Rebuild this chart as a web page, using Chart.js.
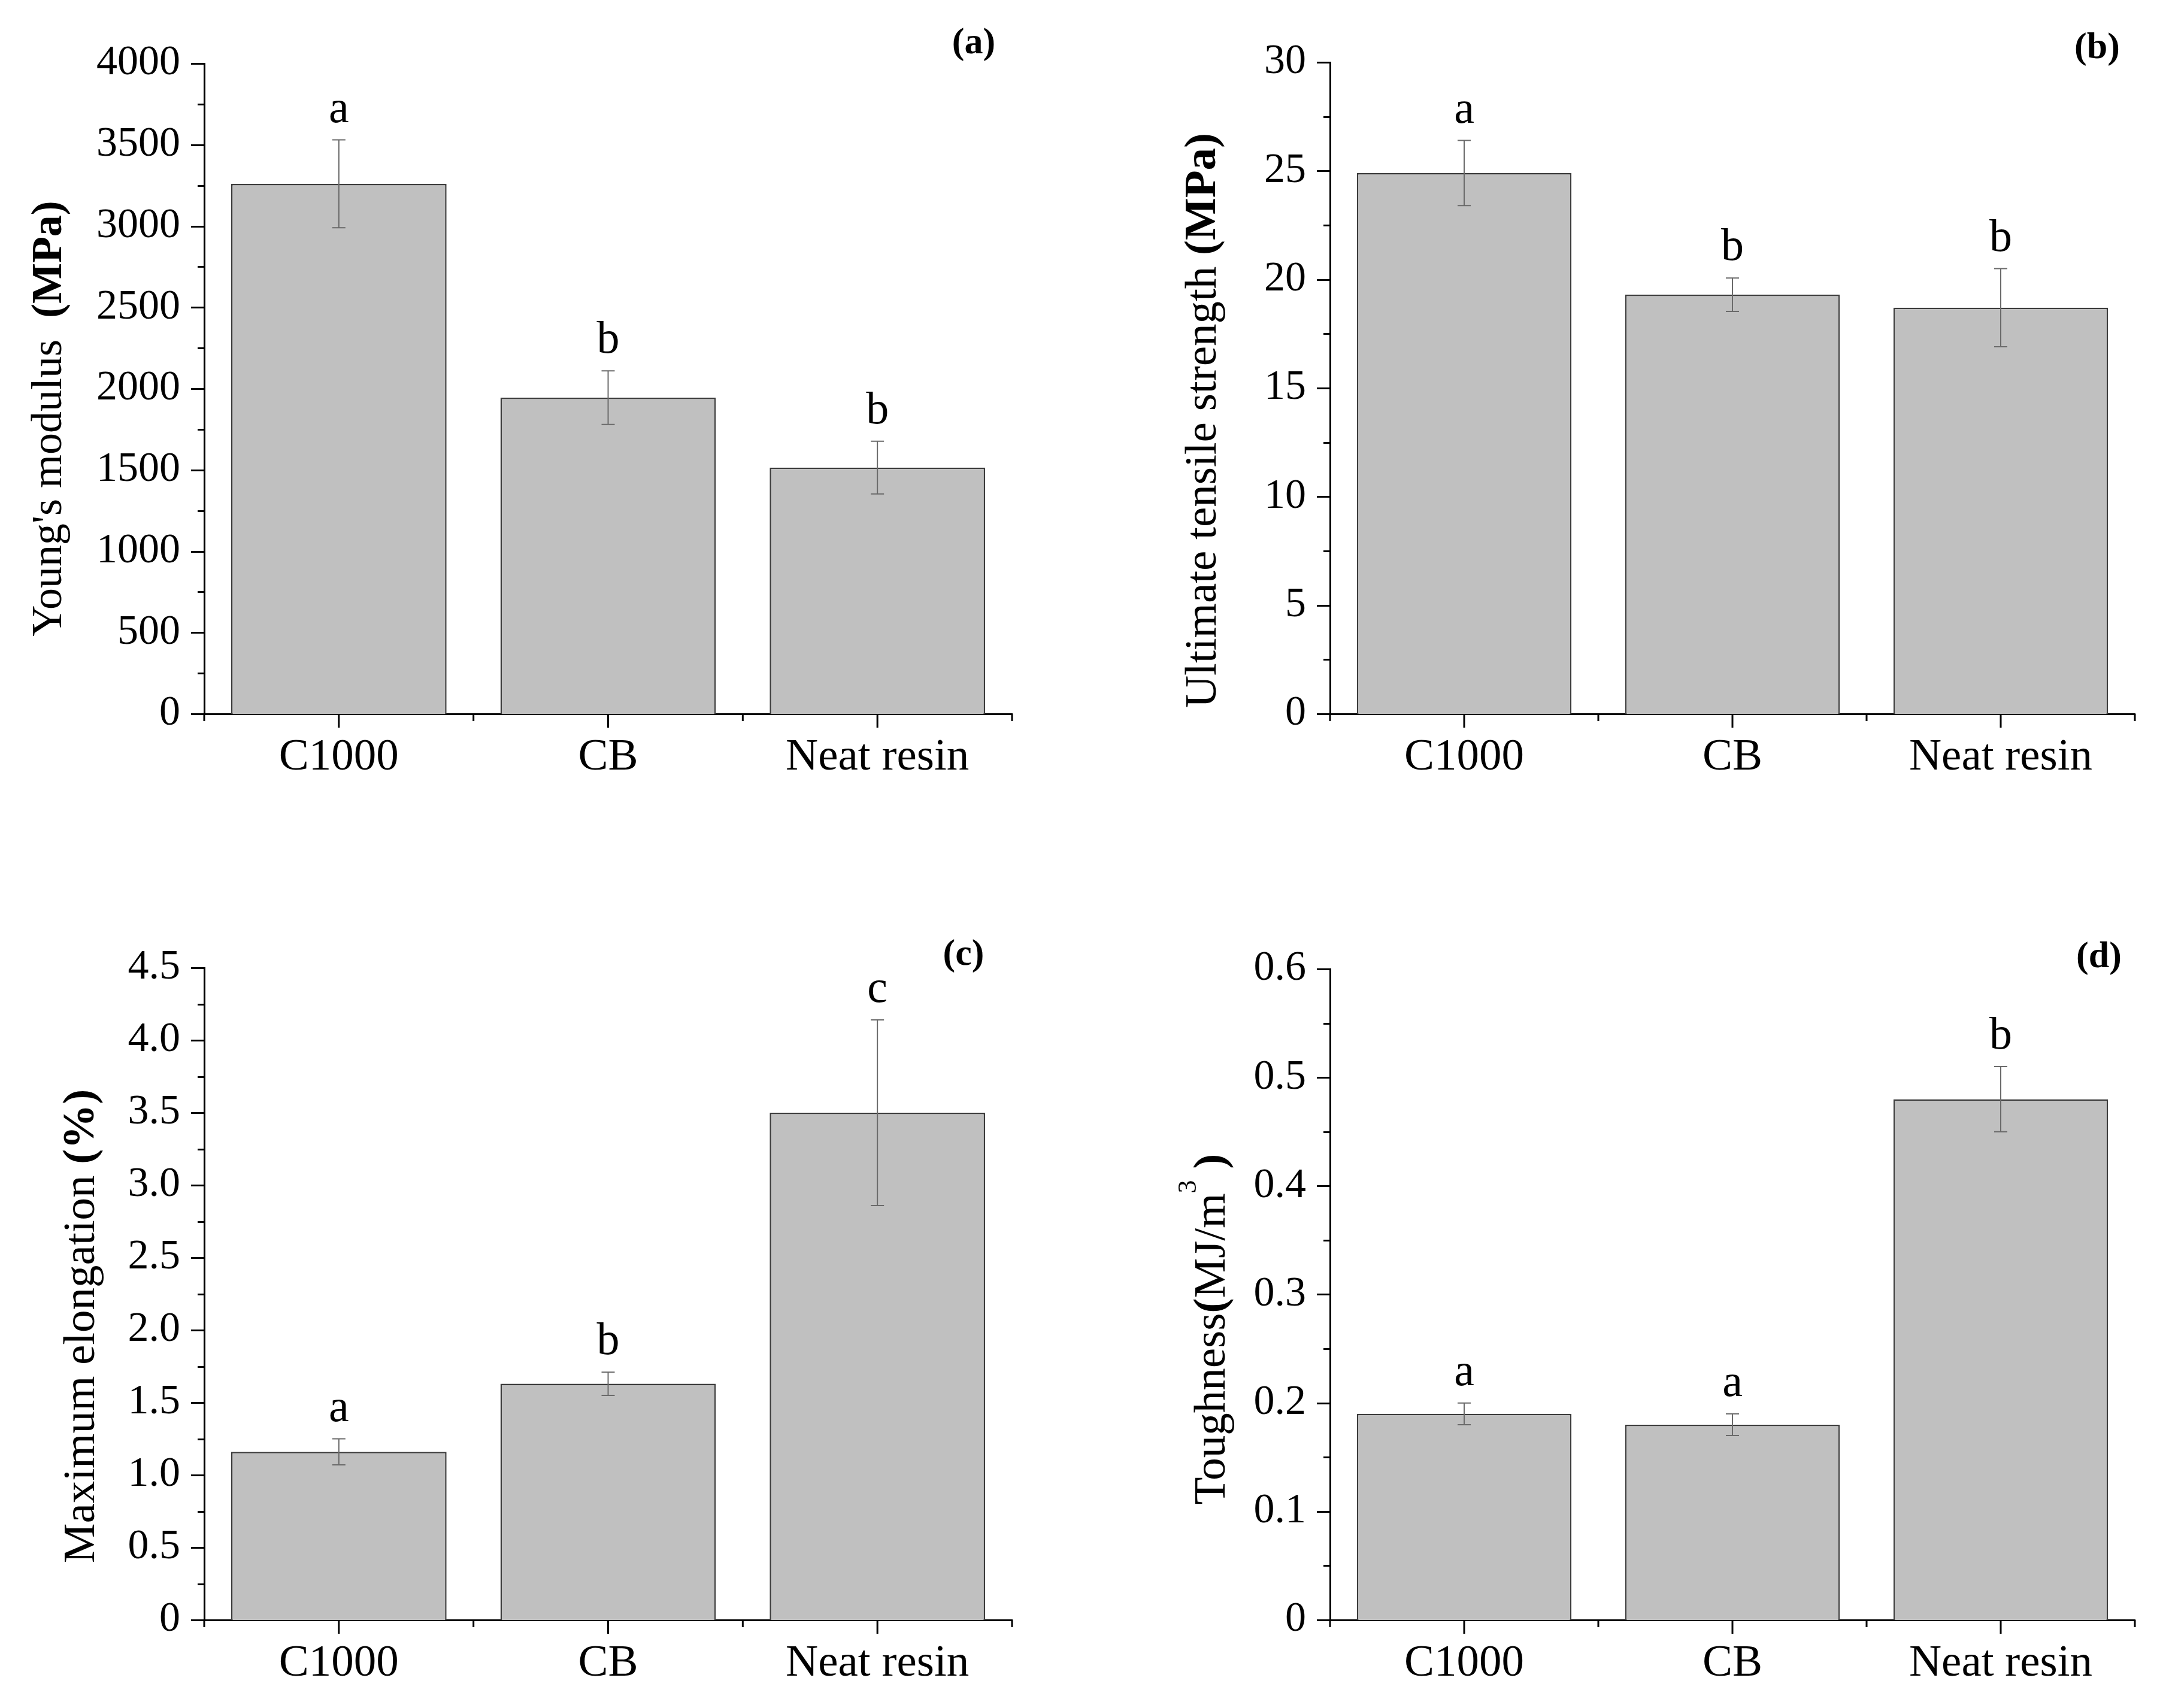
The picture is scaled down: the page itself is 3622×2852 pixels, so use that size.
<!DOCTYPE html>
<html>
<head>
<meta charset="utf-8">
<title>Mechanical properties</title>
<script src="https://cdn.jsdelivr.net/npm/chart.js@4.4.0/dist/chart.umd.min.js"></script>
<style>
  html, body { margin: 0; padding: 0; background: #fff; }
  #wrap { position: relative; width: 3622px; height: 2852px; overflow: hidden; background: #fff; }
  canvas { position: absolute; }
</style>
</head>
<body>
<div id="wrap">
  <canvas id="chartA" width="1811" height="1426" style="left:0px;top:0px;width:1811px;height:1426px"></canvas>
  <canvas id="chartB" width="1811" height="1426" style="left:1811px;top:0px;width:1811px;height:1426px"></canvas>
  <canvas id="chartC" width="1811" height="1426" style="left:0px;top:1426px;width:1811px;height:1426px"></canvas>
  <canvas id="chartD" width="1811" height="1426" style="left:1811px;top:1426px;width:1811px;height:1426px"></canvas>
</div>
<script>
// data
const categories = ['C1000', 'CB', 'Neat resin'];

const modulusMean = [3260, 1945, 1515];
const modulusErr = [270, 165, 162];
const modulusLetters = ['a', 'b', 'b'];

const strengthMean = [24.9, 19.3, 18.7];
const strengthErr = [1.5, 0.77, 1.8];
const strengthLetters = ['a', 'b', 'b'];

const elongationMean = [1.16, 1.63, 3.50];
const elongationErr = [0.09, 0.08, 0.64];
const elongationLetters = ['a', 'b', 'c'];

const toughnessMean = [0.19, 0.18, 0.48];
const toughnessErr = [0.01, 0.01, 0.03];
const toughnessLetters = ['a', 'a', 'b'];

const FONT = "'Liberation Serif', 'Times New Roman', serif";
const W = 1811, H = 1426;

const panels = [
    {
        id: 'chartA', label: '(a)', mean: modulusMean, err: modulusErr, letters: modulusLetters,
        max: 4000, step: 500, minor: 250, decimals: 0,
        title: [{ t: "Young's modulus  " }, { t: '(MPa)', b: true }], titleSize: 72,
        area: { left: 341, right: 1690, top: 106, bottom: 1192 },
        titleX: -258, titleDy: 50, labelPos: [-64, -33]
    },
    {
        id: 'chartB', label: '(b)', mean: strengthMean, err: strengthErr, letters: strengthLetters,
        max: 30, step: 5, minor: 2.5, decimals: 0,
        title: [{ t: 'Ultimate tensile strength ' }, { t: '(MPa)', b: true }], titleSize: 75,
        area: { left: 410, right: 1754, top: 104, bottom: 1192 },
        titleX: -211, titleDy: 54, labelPos: [-63, -23]
    },
    {
        id: 'chartC', label: '(c)', mean: elongationMean, err: elongationErr, letters: elongationLetters,
        max: 4.5, step: 0.5, minor: 0.25, decimals: 1,
        title: [{ t: 'Maximum elongation ' }, { t: '(%)', b: true }], titleSize: 75,
        area: { left: 341, right: 1690, top: 190, bottom: 1279 },
        titleX: -204, titleDy: 54, labelPos: [-81, -21]
    },
    {
        id: 'chartD', label: '(d)', mean: toughnessMean, err: toughnessErr, letters: toughnessLetters,
        max: 0.6, step: 0.1, minor: 0.05, decimals: 1,
        title: [{ t: 'Toughness' }, { t: '(', b: true }, { t: 'MJ/m' }, { t: '3', sup: true }, { t: ' )', b: true }],
        titleSize: 75,
        area: { left: 410, right: 1754, top: 192, bottom: 1279 },
        titleX: -196, titleDy: 58, labelPos: [-60, -19]
    }
];

function partFont(part, size) {
    if (part.sup) return `44px ${FONT}`;
    return `${part.b ? 'bold ' : ''}${size}px ${FONT}`;
}

function drawTitle(ctx, parts, size, cx, cy) {
    ctx.save();
    ctx.translate(cx, cy);
    ctx.rotate(-Math.PI / 2);
    ctx.fillStyle = '#000';
    ctx.textBaseline = 'middle';
    ctx.textAlign = 'left';
    let total = 0;
    parts.forEach(part => {
        ctx.font = partFont(part, size);
        part.w = ctx.measureText(part.t).width;
        total += part.w;
    });
    let x = -total / 2;
    parts.forEach(part => {
        ctx.font = partFont(part, size);
        ctx.fillText(part.t, x, part.sup ? -40 : 0);
        x += part.w;
    });
    ctx.restore();
}

function makeDecor(p) {
    return {
        id: 'decor_' + p.id,
        afterDatasetsDraw(chart) {
            const ctx = chart.ctx;
            const yScale = chart.scales.y;
            const meta = chart.getDatasetMeta(0);
            ctx.save();
            meta.data.forEach((bar, i) => {
                const yt = yScale.getPixelForValue(p.mean[i] + p.err[i]);
                const yb = yScale.getPixelForValue(p.mean[i] - p.err[i]);
                ctx.strokeStyle = '#6a6a6a';
                ctx.lineWidth = 2;
                ctx.beginPath();
                ctx.moveTo(bar.x, yt); ctx.lineTo(bar.x, yb);
                ctx.moveTo(bar.x - 11, yt); ctx.lineTo(bar.x + 11, yt);
                ctx.moveTo(bar.x - 11, yb); ctx.lineTo(bar.x + 11, yb);
                ctx.stroke();

                ctx.fillStyle = '#000';
                ctx.font = `76px ${FONT}`;
                ctx.textAlign = 'center';
                ctx.textBaseline = 'alphabetic';
                ctx.fillText(p.letters[i], bar.x, yt - 30);
            });
            ctx.restore();
        },
        afterDraw(chart) {
            const ctx = chart.ctx;
            const area = chart.chartArea;
            const xScale = chart.scales.x;
            const yScale = chart.scales.y;
            ctx.save();
            ctx.strokeStyle = '#000';
            ctx.lineWidth = 3;
            ctx.beginPath();
            // y ticks, major and minor, pointing out
            const n = Math.round(p.max / p.minor);
            for (let k = 0; k <= n; k++) {
                const py = Math.round(yScale.getPixelForValue(k * p.minor)) + 0.5;
                const len = k % 2 === 0 ? 22 : 11;
                ctx.moveTo(area.left - len, py);
                ctx.lineTo(area.left, py);
            }
            // x ticks: centres long, boundaries short
            categories.forEach((c, i) => {
                const px = xScale.getPixelForValue(i);
                ctx.moveTo(px, area.bottom);
                ctx.lineTo(px, area.bottom + 23);
            });
            const bounds = [area.left];
            for (let i = 0; i < categories.length - 1; i++) {
                bounds.push((xScale.getPixelForValue(i) + xScale.getPixelForValue(i + 1)) / 2);
            }
            bounds.push(area.right);
            bounds.forEach(bx => {
                ctx.moveTo(bx, area.bottom);
                ctx.lineTo(bx, area.bottom + 12);
            });
            ctx.stroke();

            // panel letter
            ctx.fillStyle = '#000';
            ctx.font = `bold 62px ${FONT}`;
            ctx.textAlign = 'center';
            ctx.textBaseline = 'middle';
            ctx.fillText(p.label, area.right + p.labelPos[0], area.top + p.labelPos[1]);
            ctx.restore();

            drawTitle(ctx, p.title, p.titleSize, area.left + p.titleX, (area.top + area.bottom) / 2 + p.titleDy);
        }
    };
}

function makePanel(p) {
    const ctx = document.getElementById(p.id).getContext('2d');
    return new Chart(ctx, {
        type: 'bar',
        data: {
            labels: categories,
            datasets: [{
                data: p.mean,
                backgroundColor: '#c0c0c0',
                borderColor: '#3c3c3c',
                borderWidth: 2.5,
                barPercentage: 0.8,
                categoryPercentage: 1.0
            }]
        },
        options: {
            responsive: false,
            animation: false,
            devicePixelRatio: 1,
            layout: {
                padding: { left: 0, top: p.area.top, right: W - p.area.right, bottom: 0 }
            },
            plugins: {
                legend: { display: false },
                tooltip: { enabled: false }
            },
            scales: {
                x: {
                    grid: { display: false, drawTicks: false },
                    border: { display: true, color: '#000', width: 3 },
                    ticks: {
                        color: '#000',
                        padding: 28,
                        font: { family: FONT, size: 75 }
                    },
                    afterFit(scale) { scale.height = H - p.area.bottom; }
                },
                y: {
                    min: 0,
                    max: p.max,
                    grid: { display: false, drawTicks: false },
                    border: { display: true, color: '#000', width: 3 },
                    ticks: {
                        stepSize: p.step,
                        autoSkip: false,
                        color: '#000',
                        padding: 40,
                        font: { family: FONT, size: 70 },
                        callback: value => value === 0 ? '0' : Number(value).toFixed(p.decimals)
                    },
                    afterFit(scale) { scale.width = p.area.left; }
                }
            }
        },
        plugins: [makeDecor(p)]
    });
}

panels.forEach(p => makePanel(p));
</script>
</body>
</html>
